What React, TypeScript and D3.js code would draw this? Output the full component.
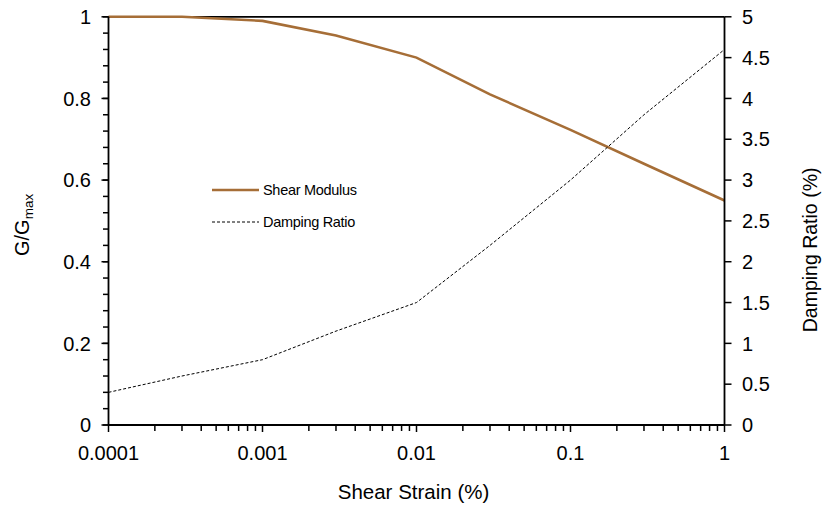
import React from "react";
import * as d3 from "d3";

const strain = [0.0001, 0.0003, 0.001, 0.003, 0.01, 0.03, 0.1, 0.3, 1];
const shearModulus = [1.0, 1.0, 0.99, 0.954, 0.9, 0.81, 0.723, 0.64, 0.55];
const dampingRatio = [0.4, 0.6, 0.8, 1.15, 1.5, 2.2, 3.0, 3.8, 4.6];
const xTickValues = [0.0001, 0.001, 0.01, 0.1, 1];
const xTickLabels = ["0.0001", "0.001", "0.01", "0.1", "1"];
const leftTickValues = [0, 0.2, 0.4, 0.6, 0.8, 1];
const leftTickLabels = ["0", "0.2", "0.4", "0.6", "0.8", "1"];
const rightTickValues = [0, 0.5, 1, 1.5, 2, 2.5, 3, 3.5, 4, 4.5, 5];
const rightTickLabels = ["0", "0.5", "1", "1.5", "2", "2.5", "3", "3.5", "4", "4.5", "5"];
const seriesNames = ["Shear Modulus", "Damping Ratio"];

const W = 824;
const H = 506;
const L = 108.5;
const R = 724.5;
const T = 16.8;
const B = 425;
const FONT = "'Liberation Sans', Arial, sans-serif";
const BROWN = "#A66E37";

export default function App() {
  const x = d3.scaleLog().domain([0.0001, 1]).range([L, R]);
  const yL = d3.scaleLinear().domain([0, 1]).range([B, T]);
  const yR = d3.scaleLinear().domain([0, 5]).range([B, T]);

  const idx = d3.range(strain.length);
  const lineG = d3
    .line<number>()
    .x((i) => x(strain[i]))
    .y((i) => yL(shearModulus[i]));
  const lineD = d3
    .line<number>()
    .x((i) => x(strain[i]))
    .y((i) => yR(dampingRatio[i]));

  const xMinor: number[] = [];
  for (let e = -4; e < 0; e++) {
    for (let m = 2; m <= 9; m++) xMinor.push(m * Math.pow(10, e));
  }
  const leftMinor = d3.range(0, 1.0001, 0.04);

  return (
    <svg
      width={W}
      height={H}
      style={{ position: "absolute", left: 0, top: 0, background: "#fff" }}
      fontFamily={FONT}
    >
      <rect x={0} y={0} width={W} height={H} fill="#fff" />
      {/* top border */}
      <line x1={L} x2={R} y1={T} y2={T} stroke="#000" strokeWidth={1.8} />

      {/* series */}
      <path d={lineG(idx) || ""} fill="none" stroke={BROWN} strokeWidth={2.6} />
      <path
        d={lineD(idx) || ""}
        fill="none"
        stroke="#000"
        strokeWidth={1}
        strokeDasharray="3,2"
      />

      {/* left axis */}
      <line x1={L} x2={L} y1={T} y2={B} stroke="#000" strokeWidth={1.8} />
      {leftMinor.map((v, i) => (
        <line key={"lm" + i} x1={L - 5.5} x2={L} y1={yL(v)} y2={yL(v)} stroke="#000" strokeWidth={1.5} />
      ))}
      {leftTickValues.map((v, i) => (
        <g key={"lt" + i}>
          <line x1={L - 7} x2={L} y1={yL(v)} y2={yL(v)} stroke="#000" strokeWidth={1.5} />
          <text x={91} y={yL(v)} dy="0.36em" textAnchor="end" fontSize={20} fill="#000">
            {leftTickLabels[i]}
          </text>
        </g>
      ))}

      {/* right axis */}
      <line x1={R} x2={R} y1={T} y2={B} stroke="#000" strokeWidth={1.8} />
      {rightTickValues.map((v, i) => (
        <g key={"rt" + i}>
          <line x1={R} x2={R + 7} y1={yR(v)} y2={yR(v)} stroke="#000" strokeWidth={1.5} />
          <text x={742} y={yR(v)} dy="0.36em" textAnchor="start" fontSize={20} fill="#000">
            {rightTickLabels[i]}
          </text>
        </g>
      ))}

      {/* bottom axis */}
      <line x1={L} x2={R} y1={B} y2={B} stroke="#000" strokeWidth={1.8} />
      {xMinor.map((v, i) => (
        <line key={"xm" + i} x1={x(v)} x2={x(v)} y1={B} y2={B + 6} stroke="#000" strokeWidth={1.5} />
      ))}
      {xTickValues.map((v, i) => (
        <g key={"xt" + i}>
          <line x1={x(v)} x2={x(v)} y1={B} y2={B + 7} stroke="#000" strokeWidth={1.5} />
          <text x={x(v)} y={459.5} textAnchor="middle" fontSize={20} fill="#000">
            {xTickLabels[i]}
          </text>
        </g>
      ))}

      {/* axis titles */}
      <text x={(L + R) / 2 - 3} y={498.5} textAnchor="middle" fontSize={20.5} fill="#000">
        Shear Strain (%)
      </text>
      <text
        transform={`translate(29, ${(T + B) / 2 + 4}) rotate(-90)`}
        textAnchor="middle"
        fontSize={20}
        fill="#000"
      >
        G/G
        <tspan fontSize={13.5} dy="4">max</tspan>
      </text>
      <text
        transform={`translate(816.5, ${(T + B) / 2 + 29}) rotate(-90)`}
        textAnchor="middle"
        fontSize={19.5}
        fill="#000"
      >
        Damping Ratio (%)
      </text>

      {/* legend */}
      <line x1={212} x2={259} y1={190} y2={190} stroke={BROWN} strokeWidth={2.6} />
      <text x={263} y={190} dy="0.36em" fontSize={14.5} letterSpacing={-0.3} fill="#000">
        {seriesNames[0]}
      </text>
      <line x1={212} x2={259} y1={222} y2={222} stroke="#000" strokeWidth={1} strokeDasharray="3,2" />
      <text x={263} y={222} dy="0.36em" fontSize={14.5} letterSpacing={-0.3} fill="#000">
        {seriesNames[1]}
      </text>
    </svg>
  );
}
